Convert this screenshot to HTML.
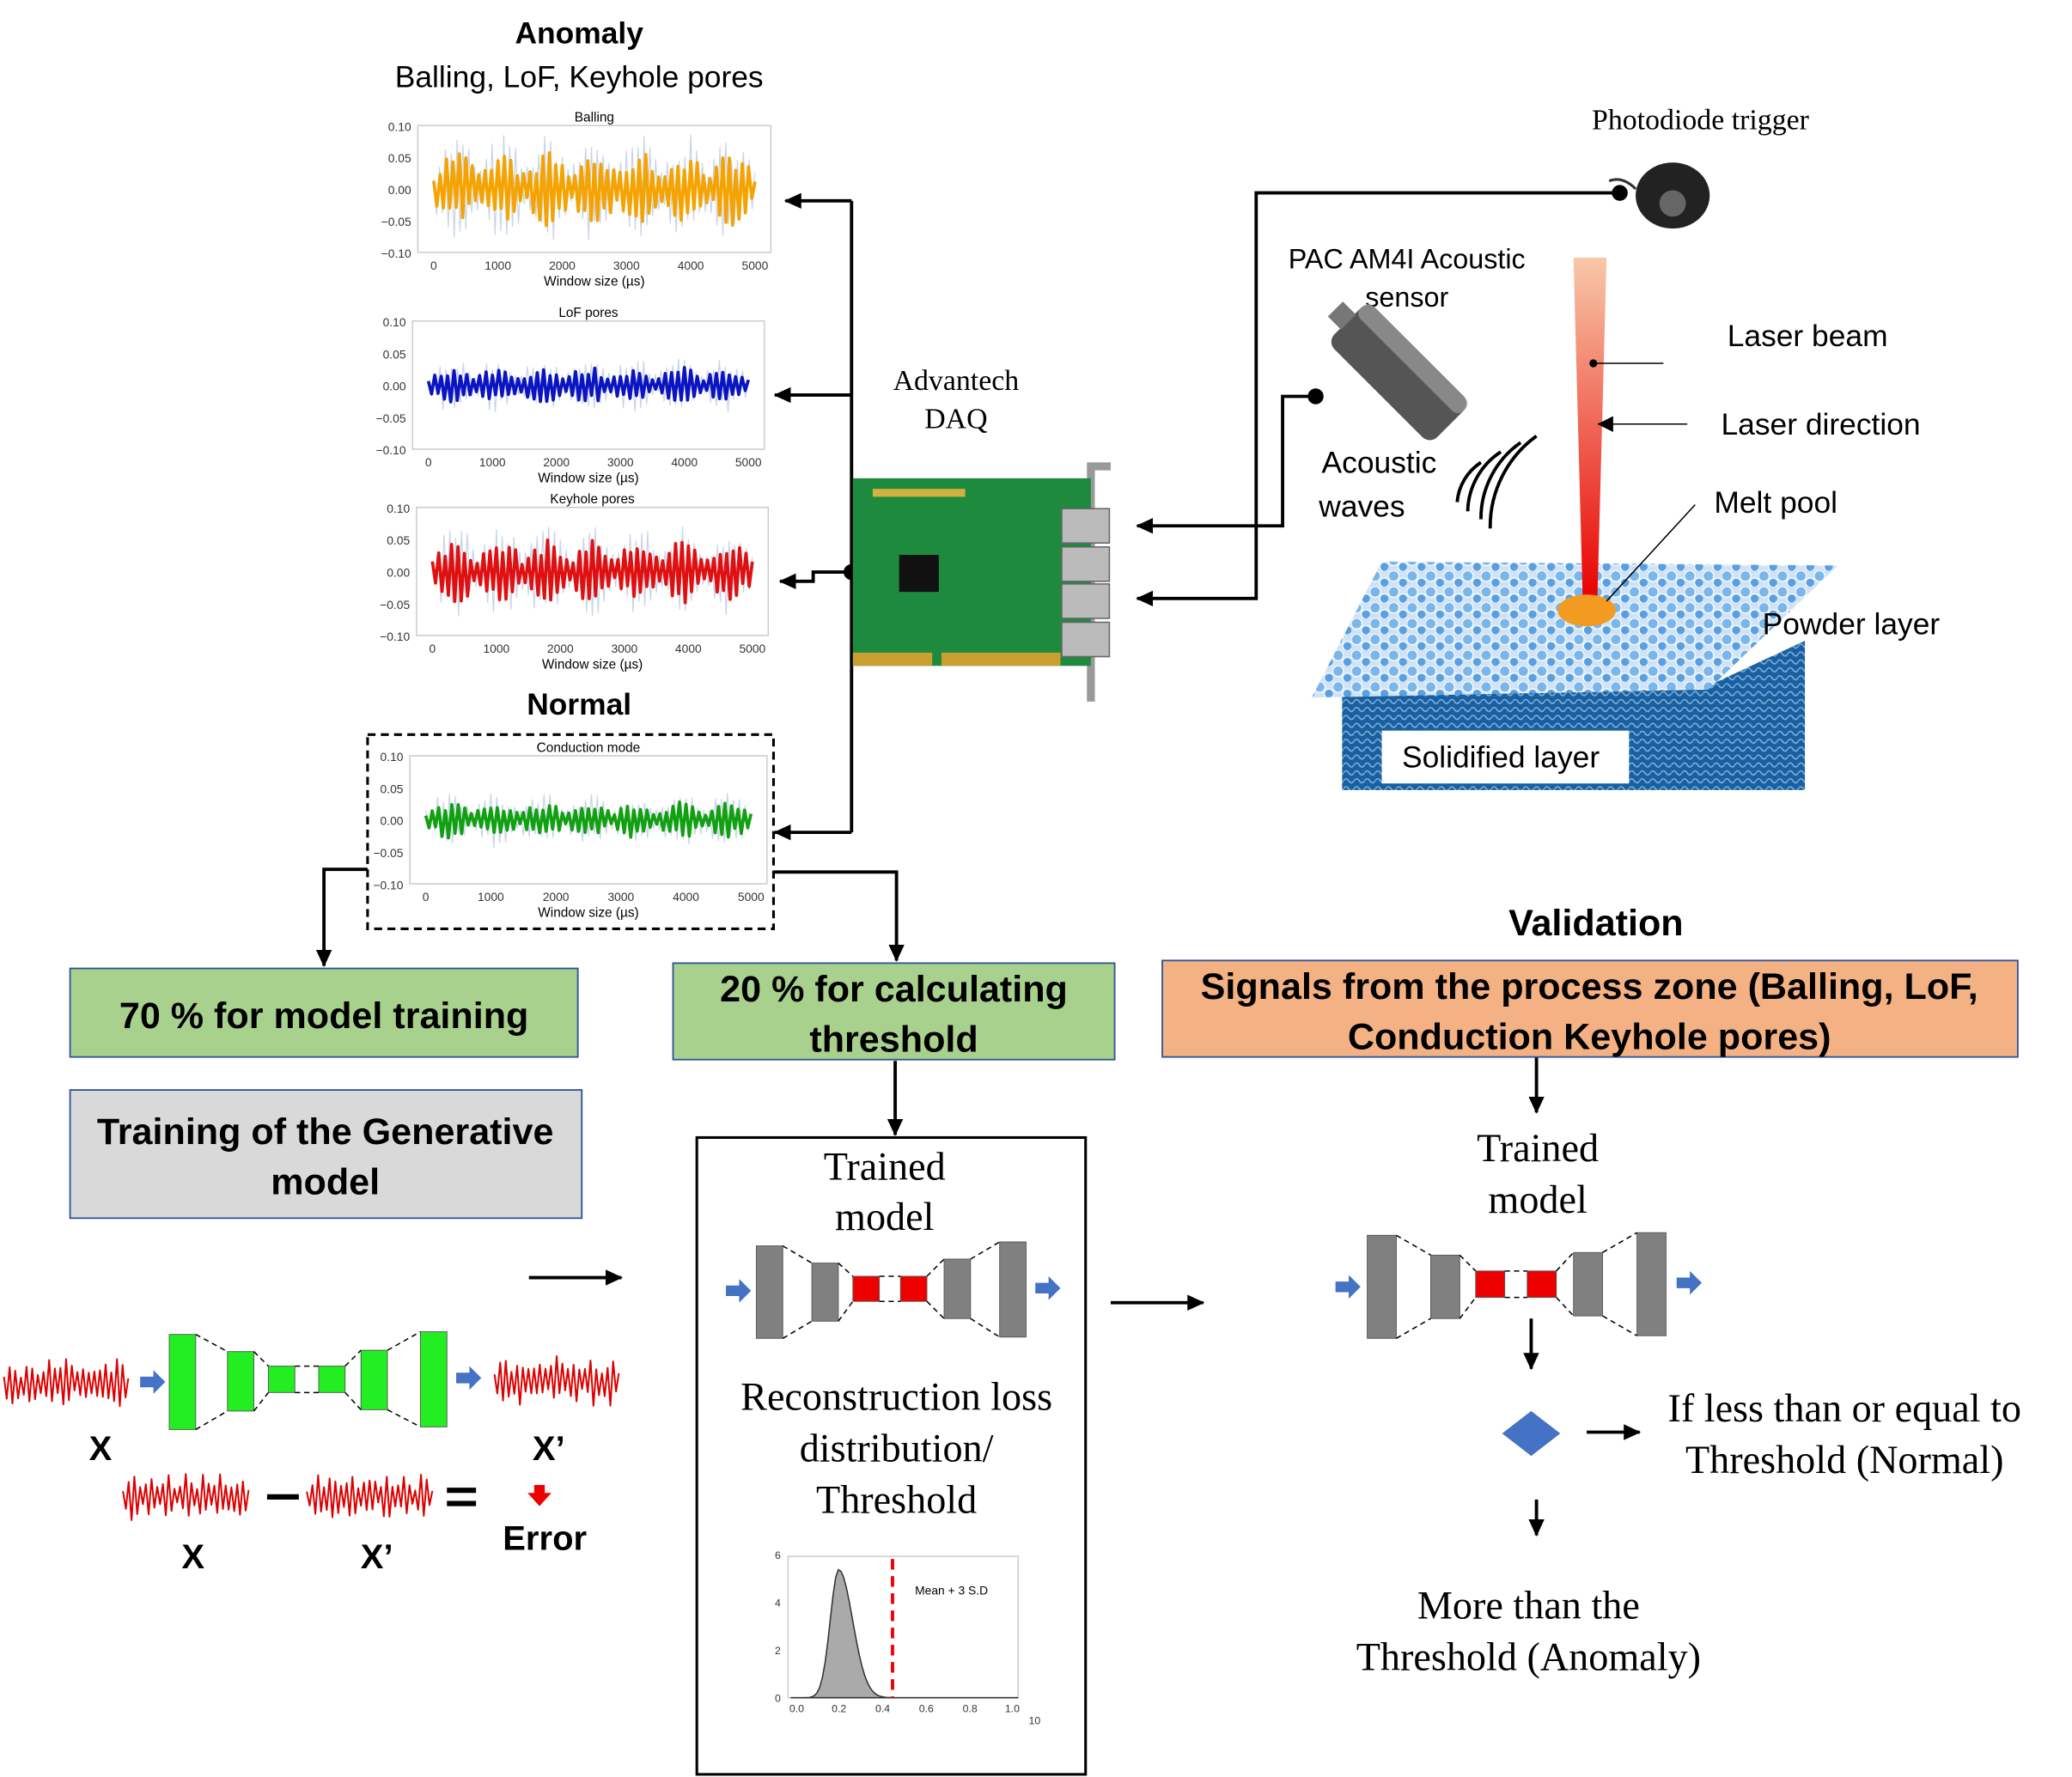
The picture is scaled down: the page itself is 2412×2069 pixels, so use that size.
<!DOCTYPE html><html><head><meta charset="utf-8"><style>html,body{margin:0;padding:0;background:#fff;overflow:hidden}svg{display:block}</style></head><body>
<svg id="s" width="2412" height="2069" viewBox="0 0 1567 1345" preserveAspectRatio="none" xmlns="http://www.w3.org/2000/svg" font-family="Liberation Sans, sans-serif">
<defs>
<marker id="ab" markerWidth="14" markerHeight="14" refX="12" refY="7" orient="auto" markerUnits="userSpaceOnUse"><path d="M0,1L13,7L0,13z" fill="#000"/></marker>
<linearGradient id="lg" x1="0" y1="0" x2="0" y2="1"><stop offset="0" stop-color="#f8c8a8"/><stop offset="1" stop-color="#e80000"/></linearGradient>
<pattern id="wv" width="8" height="6" patternUnits="userSpaceOnUse"><rect width="8" height="6" fill="#1a5fa0"/><path d="M0,3q2,-3 4,0t4,0" stroke="#7fb4e0" fill="none" stroke-width="1"/></pattern>
<pattern id="pw" width="14" height="12" patternUnits="userSpaceOnUse"><rect width="14" height="12" fill="#cfe3f5"/><circle cx="4" cy="4" r="4" fill="#7ab6ea" stroke="#fff" stroke-width=".8"/><circle cx="11" cy="9" r="3.5" fill="#5aa0e0" stroke="#fff" stroke-width=".8"/></pattern>
</defs>
<g id="g"></g>
<text x="438" y="33" font-size="23" font-weight="bold" text-anchor="middle">Anomaly</text>
<text x="438" y="66" font-size="23" text-anchor="middle">Balling, LoF, Keyhole pores</text>
<text x="438" y="541" font-size="23" font-weight="bold" text-anchor="middle">Normal</text>
<rect x="278" y="556" width="307" height="147" fill="none" stroke="#000" stroke-width="2" stroke-dasharray="6,4"/>
<g stroke="#000" stroke-width="2.5" fill="none">
<path d="M644,152V630"/>
<path d="M644,152H594" marker-end="url(#ab)"/>
<path d="M644,299H586" marker-end="url(#ab)"/>
<path d="M644,433H615V440H590" marker-end="url(#ab)"/>
<path d="M644,630H586" marker-end="url(#ab)"/>
<path d="M995,300H970V398H860" marker-end="url(#ab)"/>
<path d="M1225,146H950V453H860" marker-end="url(#ab)"/>
<path d="M278,658H245V731" marker-end="url(#ab)"/>
<path d="M585,660H678V727" marker-end="url(#ab)"/>
<path d="M677,803V859" marker-end="url(#ab)"/>
<path d="M1162,800V842" marker-end="url(#ab)"/>
<path d="M400,967H470" marker-end="url(#ab)"/>
<path d="M840,986H910" marker-end="url(#ab)"/>
<path d="M1158,998V1036" marker-end="url(#ab)"/>
<path d="M1200,1084H1240" marker-end="url(#ab)"/>
<path d="M1162,1135V1162" marker-end="url(#ab)"/>
</g>
<circle cx="644" cy="433" r="6"/><circle cx="995" cy="300" r="6"/><circle cx="1225" cy="146" r="6"/>
<text x="723" y="295" font-family="Liberation Serif,serif" font-size="22" text-anchor="middle">Advantech</text>
<text x="723" y="324" font-family="Liberation Serif,serif" font-size="22" text-anchor="middle">DAQ</text>
<path d="M822,350h18v6h-12v175h-6z" fill="#999"/>
<rect x="645" y="362" width="180" height="142" fill="#1e8a3e"/>
<rect x="645" y="494" width="60" height="10" fill="#c9a030"/><rect x="712" y="494" width="90" height="10" fill="#c9a030"/>
<rect x="680" y="420" width="30" height="28" fill="#111"/><rect x="660" y="370" width="70" height="6" fill="#d4b040"/>
<g fill="#bbb" stroke="#666"><rect x="803" y="385" width="36" height="26"/><rect x="803" y="414" width="36" height="26"/><rect x="803" y="442" width="36" height="26"/><rect x="803" y="471" width="36" height="26"/></g>
<text x="1286" y="98" font-family="Liberation Serif,serif" font-size="22" text-anchor="middle">Photodiode trigger</text>
<g transform="translate(1265,148)"><ellipse cx="0" cy="0" rx="28" ry="25" fill="#222"/><circle cx="0" cy="6" r="10" fill="#666"/><path d="M-28,-5q-10,-10 -20,-6" stroke="#333" stroke-width="2" fill="none"/></g>
<text x="1064" y="203" font-size="21" text-anchor="middle">PAC AM4I Acoustic</text>
<text x="1064" y="232" font-size="21" text-anchor="middle">sensor</text>
<g transform="translate(1058,282) rotate(45)"><rect x="-55" y="-22" width="110" height="44" rx="8" fill="#555"/><rect x="-55" y="-22" width="110" height="14" rx="6" fill="#aaa" opacity=".6"/><rect x="-68" y="-8" width="14" height="16" fill="#777"/></g>
<text x="1043" y="358" font-size="23" text-anchor="middle">Acoustic</text>
<text x="1030" y="391" font-size="23" text-anchor="middle">waves</text>
<g stroke="#000" stroke-width="2.5" fill="none"><path d="M1120,350a40,40 0 0,0 -18,30"/><path d="M1135,342a55,55 0 0,0 -25,45"/><path d="M1150,335a70,70 0 0,0 -30,58"/><path d="M1162,330a85,85 0 0,0 -35,70"/></g>
<path d="M1290,520L1365,485V598H1290z" fill="url(#wv)"/>
<rect x="1015" y="520" width="278" height="78" fill="url(#wv)"/>
<path d="M1045,425L1390,428L1292,522L992,528z" fill="url(#pw)"/>
<rect x="1045" y="553" width="187" height="40" fill="#fff"/>
<text x="1135" y="581" font-size="23" text-anchor="middle">Solidified layer</text>
<path d="M1190,195H1215L1208,455H1197z" fill="url(#lg)"/>
<ellipse cx="1200" cy="462" rx="22" ry="12" fill="#f39a20"/>
<g stroke="#000" stroke-width="1"><path d="M1205,275H1258"/><path d="M1210,321H1276"/><path d="M1215,455L1282,382"/></g>
<circle cx="1205" cy="275" r="3"/><path d="M1208,321l12,-6v12z"/>
<text x="1367" y="262" font-size="23" text-anchor="middle">Laser beam</text>
<text x="1377" y="329" font-size="23" text-anchor="middle">Laser direction</text>
<text x="1343" y="388" font-size="23" text-anchor="middle">Melt pool</text>
<text x="1400" y="480" font-size="23" text-anchor="middle">Powder layer</text>
<rect x="53" y="733" width="384" height="67" fill="#a9d18e" stroke="#2f5597" stroke-width="1.2"/>
<text x="245" y="778" font-size="28" font-weight="bold" text-anchor="middle">70 % for model training</text>
<rect x="509" y="729" width="334" height="73" fill="#a9d18e" stroke="#2f5597" stroke-width="1.2"/>
<text x="676" y="758" font-size="28" font-weight="bold" text-anchor="middle">20 % for calculating</text>
<text x="676" y="796" font-size="28" font-weight="bold" text-anchor="middle">threshold</text>
<text x="1207" y="708" font-size="28" font-weight="bold" text-anchor="middle">Validation</text>
<rect x="879" y="727" width="647" height="73" fill="#f4b183" stroke="#2f5597" stroke-width="1.2"/>
<text x="1202" y="756" font-size="28" font-weight="bold" text-anchor="middle">Signals from the process zone (Balling, LoF,</text>
<text x="1202" y="794" font-size="28" font-weight="bold" text-anchor="middle">Conduction Keyhole pores)</text>
<rect x="53" y="825" width="387" height="97" fill="#d9d9d9" stroke="#2f5597" stroke-width="1.2"/>
<text x="246" y="866" font-size="28" font-weight="bold" text-anchor="middle">Training of the Generative</text>
<text x="246" y="904" font-size="28" font-weight="bold" text-anchor="middle">model</text>
<rect x="527" y="861" width="294" height="482" fill="none" stroke="#000" stroke-width="2"/>
<g font-family="Liberation Serif,serif" font-size="30" text-anchor="middle">
<text x="669" y="893">Trained</text><text x="669" y="931">model</text>
<text x="678" y="1067">Reconstruction loss</text><text x="678" y="1106">distribution/</text><text x="678" y="1145">Threshold</text>
<text x="1163" y="879">Trained</text><text x="1163" y="918">model</text>
<text x="1395" y="1076">If less than or equal to</text><text x="1395" y="1115">Threshold (Normal)</text>
<text x="1156" y="1225">More than the</text><text x="1156" y="1264">Threshold (Anomaly)</text>
</g>
<path d="M1158,1068L1180,1085L1158,1102L1136,1085z" fill="#4472c4"/>
<rect x="596" y="1178" width="174" height="107" fill="none" stroke="#ccc"/>
<path id="hist" d="" fill="#aaa" stroke="#333" stroke-width="1"/>
<path d="M675,1180V1285" stroke="#e00" stroke-width="2.5" stroke-dasharray="8,5"/>
<text x="692" y="1207" font-size="9">Mean + 3 S.D</text>
<g font-size="8" fill="#333"><text x="586" y="1180">6</text><text x="586" y="1216">4</text><text x="586" y="1252">2</text><text x="586" y="1288">0</text>
<text x="597" y="1296">0.0</text><text x="629" y="1296">0.2</text><text x="662" y="1296">0.4</text><text x="695" y="1296">0.6</text><text x="728" y="1296">0.8</text><text x="760" y="1296">1.0</text><text x="778" y="1305">10</text></g>
<g font-size="26" font-weight="bold" text-anchor="middle"><text x="76" y="1105">X</text><text x="415" y="1105">X’</text><text x="146" y="1187">X</text><text x="285" y="1187">X’</text><text x="412" y="1173">Error</text></g>
<g stroke="#000" stroke-width="4"><path d="M202,1133H226"/><path d="M338,1128H360M338,1138H360"/></g>
<path d="M404,1124h8v6h5l-9,10l-9,-10h5z" fill="#e00"/>
</svg>
<script>
const g=document.getElementById('g');const NS='http://www.w3.org/2000/svg';
function el(t,a){const e=document.createElementNS(NS,t);for(const k in a)e.setAttribute(k,a[k]);g.appendChild(e);return e;}
let seed=7;function r(){seed=(seed*16807)%2147483647;return seed/2147483647;}
function wave(x0,x1,cy,amp,col,w,n){let d='';for(let i=0;i<=n;i++){const x=x0+(x1-x0)*i/n;const env=.35+.65*Math.abs(Math.sin(i/n*Math.PI*7));const y=cy+(i%2?1:-1)*amp*env*(.5+.5*r());d+=(i?'L':'M')+x.toFixed(1)+','+y.toFixed(1);}el('path',{d:d,stroke:col,'stroke-width':w,fill:'none','stroke-linejoin':'round'});}
function plot(x,y,w,h,title,col,amp){el('rect',{x:x,y:y,width:w,height:h,fill:'none',stroke:'#ccc'});
 const t=el('text',{x:x+w/2,y:y-3,'font-size':10,'text-anchor':'middle'});t.textContent=title;
 ['0.10','0.05','0.00','−0.05','−0.10'].forEach((s,i)=>{const e=el('text',{x:x-5,y:y+4+i*h/4,'font-size':9,'text-anchor':'end',fill:'#333'});e.textContent=s;});
 ['0','1000','2000','3000','4000','5000'].forEach((s,i)=>{const e=el('text',{x:x+12+i*(w-24)/5,y:y+h+13,'font-size':9,'text-anchor':'middle',fill:'#333'});e.textContent=s;});
 const e=el('text',{x:x+w/2,y:y+h+25,'font-size':10,'text-anchor':'middle'});e.textContent='Window size (µs)';
 wave(x+12,x+w-12,y+h/2,amp*1.5,'#c8d4e8',.8,110);wave(x+12,x+w-12,y+h/2,amp,col,2.4,100);}
plot(316,95,267,96,'Balling','#f5a300',28);
plot(312,243,266,97,'LoF pores','#0a14c0',14);
plot(315,384,266,97,'Keyhole pores','#e01010',24);
plot(310,572,270,97,'Conduction mode','#10a010',14);
wave(3,97,1047,20,'#d00',1.3,44);wave(374,468,1045,20,'#d00',1.3,44);wave(93,188,1133,18,'#d00',1.3,44);wave(232,327,1133,18,'#d00',1.3,44);
function ae(bars,col){bars.forEach(b=>el('rect',{x:b[0],y:b[1],width:b[2],height:b[3],fill:b[4]||col,stroke:'#555','stroke-width':.6}));
 for(let i=0;i<bars.length-1;i++){const a=bars[i],b=bars[i+1];el('path',{d:`M${a[0]+a[2]},${a[1]}L${b[0]},${b[1]}M${a[0]+a[2]},${a[1]+a[3]}L${b[0]},${b[1]+b[3]}`,stroke:'#000','stroke-width':1,'stroke-dasharray':'4,3',fill:'none'});}}
function barrow(x,y){el('path',{d:`M${x},${y-4}h10v-5l9,9l-9,9v-5h-10z`,fill:'#4472c4'});}
ae([[572,943,20,70],[614,956,20,44],[645,966,20,19,'#e00'],[681,966,20,19,'#e00'],[714,953,20,45],[756,940,20,72]],'#808080');
barrow(549,977);barrow(783,975);
ae([[1034,935,22,78],[1082,950,22,48],[1116,962,22,20,'#e00'],[1155,962,22,20,'#e00'],[1190,948,22,48],[1238,933,22,78]],'#808080');
barrow(1010,974);barrow(1268,971);
ae([[128,1010,20,72],[172,1023,20,45],[203,1034,20,20],[241,1034,20,20],[273,1022,20,45],[318,1008,20,72]],'#22ee22');
barrow(106,1046);barrow(345,1043);
let d='M598,1285';for(let x=598;x<=770;x+=2){const v=(x-598)/165;const s=v<0.22?0.055:0.09;const y=1285-97*Math.exp(-Math.pow((v-0.22)/s,2));d+='L'+x+','+y.toFixed(1);}d+='L770,1285z';document.getElementById('hist').setAttribute('d',d);
</script>
</body></html>
